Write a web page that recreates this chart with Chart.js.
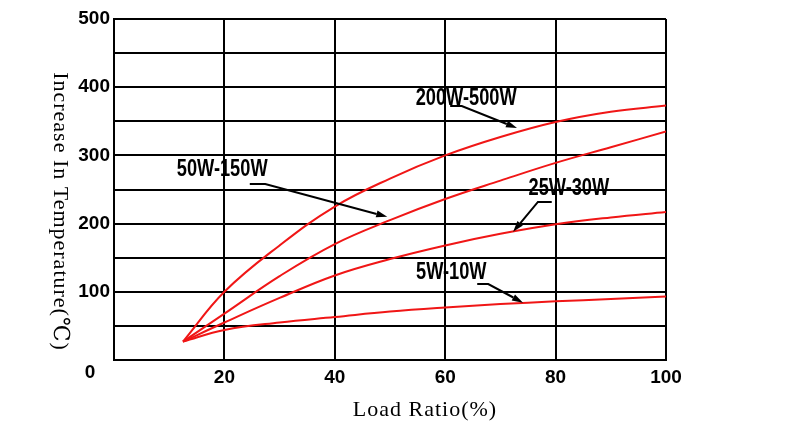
<!DOCTYPE html>
<html><head><meta charset="utf-8">
<script src="https://cdn.jsdelivr.net/npm/chart.js@4.4.0/dist/chart.umd.min.js"></script>
<style>html,body{margin:0;padding:0;background:#fff;} canvas{display:block;}</style>
</head><body>
<canvas id="c" width="800" height="438"></canvas>
<script>
// ---- data ----
const loadRatio     = [12.5, 20, 30, 40, 50, 60, 70, 80, 90, 100];
const temp200to500  = [27, 100, 168, 225, 266, 300, 327, 349, 364, 373];
const temp50to150   = [27, 68, 123, 170, 205, 236, 263, 289, 312, 335];
const temp25to30    = [27, 55, 91, 124, 148, 168, 185, 199, 209, 217];
const temp5to10     = [27, 44, 55, 63, 71, 77, 82, 86, 89.5, 93];
const seriesNames   = ['200W-500W', '50W-150W', '25W-30W', '5W-10W'];
const xTickLabels   = ['', '20', '40', '60', '80', '100'];
const yTickLabels   = ['0', '100', '200', '300', '400', '500'];
const xTitle = 'Load Ratio(%)';
const yTitle = 'Increase In Temperature(℃)';
// annotation anchors (data units: load ratio, temperature)
const labelAnchor = [[63.8, 384], [19.6, 279], [82.4, 252], [61.1, 128]];
const arrowStart  = [[60.9, 372.4], [24.6, 258.1], [79.3, 231.7], [65.8, 111.4]];
const arrowBend   = [[63.0, 372.4], [27.4, 258.1], [76.8, 231.7], [67.8, 111.4]];
const arrowTip    = [[73.0, 340], [49.5, 210], [72.3, 188], [74.1, 84]];

const RED = 'rgb(240,22,22)';
const BOLD = "'Liberation Sans', Arial, sans-serif";
const SERIF = "'Liberation Serif', 'DejaVu Serif', serif";

const allSeries = [temp200to500, temp50to150, temp25to30, temp5to10];
const datasets = allSeries.map((vals, i) => ({
  label: seriesNames[i],
  data: loadRatio.map((x, j) => ({x: x, y: vals[j]})),
  borderColor: RED,
  backgroundColor: RED,
  borderWidth: 2,
  pointRadius: 0,
  fill: false,
  tension: 0.4
}));

const decor = {
  id: 'decor',
  afterDraw(chart) {
    const ctx = chart.ctx, xs = chart.scales.x, ys = chart.scales.y, ca = chart.chartArea;
    ctx.save();
    // "0" corner label
    ctx.fillStyle = '#000';
    ctx.font = "bold 19px " + BOLD;
    ctx.textAlign = 'center';
    ctx.textBaseline = 'middle';
    ctx.fillText(yTickLabels[0], xs.getPixelForValue(0) - 24, ys.getPixelForValue(0) + 13);
    // axis titles
    ctx.font = "22px " + SERIF;
    ctx.letterSpacing = '1px';
    ctx.fillText(xTitle, ca.left + 311, ca.bottom + 50);
    ctx.save();
    ctx.translate(ca.left - 54, (ca.top + ca.bottom) / 2 + 22);
    ctx.rotate(Math.PI / 2);
    ctx.fillText(yTitle, 0, 0);
    ctx.restore();
    ctx.letterSpacing = '0px';
    // series labels with arrows
    const px = p => [xs.getPixelForValue(p[0]), ys.getPixelForValue(p[1])];
    for (let i = 0; i < seriesNames.length; i++) {
      const L = px(labelAnchor[i]), S = px(arrowStart[i]), B = px(arrowBend[i]), T = px(arrowTip[i]);
      ctx.fillStyle = '#000';
      ctx.font = "bold 24px " + BOLD;
      ctx.save();
      ctx.translate(L[0], L[1]);
      ctx.scale(0.76, 1);
      ctx.fillText(seriesNames[i], 0, 0);
      ctx.restore();
      ctx.strokeStyle = '#000';
      ctx.lineWidth = 2;
      ctx.beginPath();
      ctx.moveTo(S[0], S[1]);
      ctx.lineTo(B[0], B[1]);
      const ang = Math.atan2(T[1] - B[1], T[0] - B[0]);
      const hl = 11, hw = 3.5;
      const bx = T[0] - hl * Math.cos(ang), by = T[1] - hl * Math.sin(ang);
      ctx.lineTo(bx, by);
      ctx.stroke();
      ctx.beginPath();
      ctx.moveTo(T[0], T[1]);
      ctx.lineTo(bx + hw * Math.sin(ang), by - hw * Math.cos(ang));
      ctx.lineTo(bx - hw * Math.sin(ang), by + hw * Math.cos(ang));
      ctx.closePath();
      ctx.fill();
    }
    ctx.restore();
  }
};

new Chart(document.getElementById('c'), {
  type: 'line',
  data: { datasets },
  options: {
    responsive: false,
    animation: false,
    devicePixelRatio: 1,
    layout: { padding: { left: 0, right: 134, top: 19, bottom: 0 } },
    plugins: { legend: { display: false }, tooltip: { enabled: false } },
    scales: {
      x: {
        type: 'linear', min: 0, max: 100,
        afterBuildTicks: s => { s.ticks = xTickLabels.map((t, i) => ({value: i * 20})); },
        afterFit: s => { s.height = 78; },
        grid: { color: '#000', lineWidth: 2, drawTicks: false },
        border: { display: true, color: '#000', width: 2 },
        ticks: {
          padding: 6, color: '#000', maxRotation: 0,
          font: { family: BOLD, size: 19, weight: 'bold' },
          callback: (v) => xTickLabels[Math.round(v / 20)]
        }
      },
      y: {
        type: 'linear', min: 0, max: 500,
        afterBuildTicks: s => { const t = []; for (let v = 0; v <= 500; v += 50) t.push({value: v}); s.ticks = t; },
        afterFit: s => { s.width = 114; },
        grid: { color: '#000', lineWidth: 2, drawTicks: false },
        border: { display: true, color: '#000', width: 2 },
        ticks: {
          padding: 4, color: '#000',
          font: { family: BOLD, size: 19, weight: 'bold' },
          callback: (v) => (v % 100 === 0 && v !== 0) ? yTickLabels[v / 100] : ''
        }
      }
    }
  },
  plugins: [decor]
});
</script>
</body></html>
